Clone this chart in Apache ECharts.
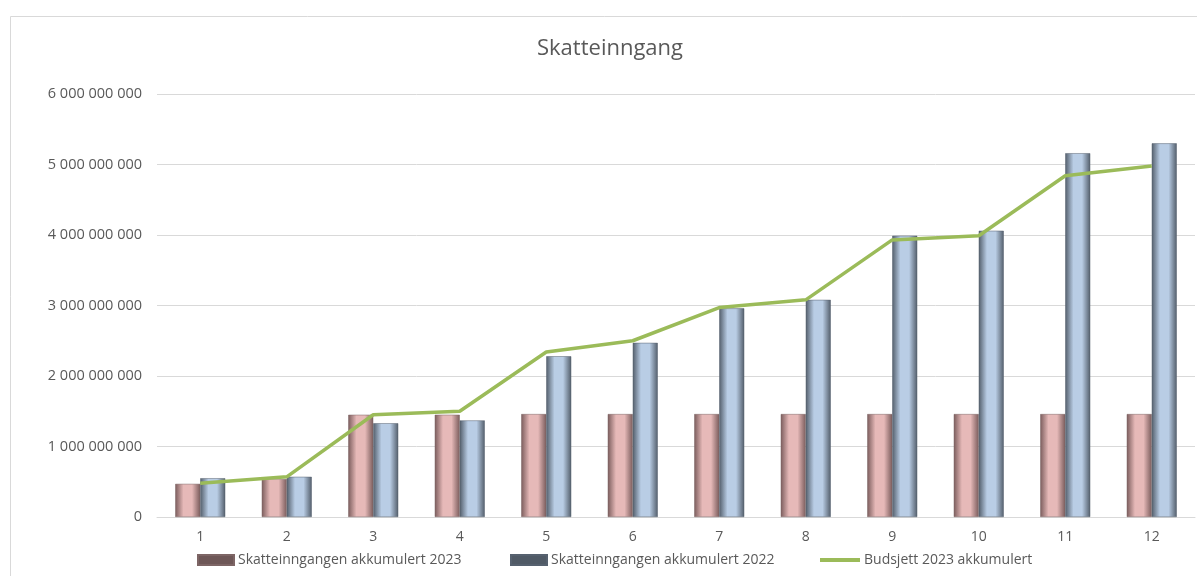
<!DOCTYPE html>
<html>
<head>
<meta charset="utf-8">
<script src="https://cdn.jsdelivr.net/npm/echarts@6/dist/echarts.min.js"></script>
<style>
  html, body { margin: 0; padding: 0; background: #fff; }
  #main { width: 1197px; height: 576px; }
</style>
</head>
<body>
<div id="main"></div>
<script>
// maaneder
var months = ['1', '2', '3', '4', '5', '6', '7', '8', '9', '10', '11', '12'];
// Skatteinngangen akkumulert 2023
var acc2023 = [470e6, 540e6, 1450e6, 1450e6, 1460e6, 1460e6, 1460e6, 1460e6, 1460e6, 1460e6, 1460e6, 1460e6];
// Skatteinngangen akkumulert 2022
var acc2022 = [550e6, 570e6, 1330e6, 1370e6, 2280e6, 2470e6, 2960e6, 3080e6, 3990e6, 4060e6, 5160e6, 5300e6];
// Budsjett 2023 akkumulert
var budget2023 = [480e6, 570e6, 1450e6, 1500e6, 2340e6, 2500e6, 2970e6, 3080e6, 3930e6, 3990e6, 4840e6, 4980e6];

var names = ['Skatteinngangen akkumulert 2023', 'Skatteinngangen akkumulert 2022', 'Budsjett 2023 akkumulert'];

var chart = echarts.init(document.getElementById('main'));

function cyl(edge, mid) {
  return new echarts.graphic.LinearGradient(0, 0, 1, 0, [
    { offset: 0, color: edge },
    { offset: 0.33, color: mid },
    { offset: 0.67, color: mid },
    { offset: 1, color: edge }
  ]);
}

function fmt(v) {
  return String(v).replace(/\B(?=(\d{3})+(?!\d))/g, ' ');
}

// en legend per serie, saa plasseringen blir som i Excel
function leg(name, left, w, h, icon, color) {
  return {
    left: left,
    top: 555 - Math.max(h, 14) / 2,
    itemWidth: w,
    itemHeight: h,
    textStyle: { fontFamily: 'Open Sans', fontSize: 14, color: '#595959', padding: [0, 0, 0, -1] },
    data: [{ name: name, icon: icon, itemStyle: { color: color } }]
  };
}

var option = {
  animation: false,
  title: {
    text: 'Skatteinngang',
    left: 532,
    top: 33,
    textStyle: { fontFamily: 'Open Sans', fontSize: 22, fontWeight: 'normal', color: '#595959' }
  },
  graphic: [{
    type: 'rect',
    shape: { x: 10.5, y: 16.5, width: 1200, height: 600 },
    style: { fill: 'none', stroke: '#d9d9d9', lineWidth: 1 },
    silent: true
  }],
  legend: [
    leg(names[0], 192, 36, 10, 'rect', '#6e5757'),
    leg(names[1], 505, 36, 10, 'rect', '#505a66'),
    leg(names[2], 815, 40, 4, 'rect', '#9bbb59')
  ],
  grid: { left: 157, right: 2, top: 94, bottom: 59, containLabel: false },
  xAxis: {
    type: 'category',
    data: months,
    axisLine: { lineStyle: { color: '#d9d9d9' } },
    axisTick: { show: false },
    axisLabel: { fontFamily: 'Open Sans', fontSize: 14, color: '#595959', margin: 13 }
  },
  yAxis: {
    type: 'value',
    min: 0,
    max: 6e9,
    interval: 1e9,
    axisLine: { show: false },
    axisTick: { show: false },
    splitLine: { lineStyle: { color: '#d9d9d9' } },
    axisLabel: { fontFamily: 'Open Sans', fontSize: 14.5, color: '#595959', margin: 15, formatter: fmt }
  },
  series: [
    {
      name: names[0],
      type: 'bar',
      data: acc2023,
      barWidth: 25,
      barGap: '0%',
      itemStyle: { color: cyl('#7a5c5c', '#e6b9b8'), borderColor: '#7d6565', borderWidth: 0.5 }
    },
    {
      name: names[1],
      type: 'bar',
      data: acc2022,
      barWidth: 25,
      barGap: '0%',
      itemStyle: { color: cyl('#535e6b', '#b9cde5'), borderColor: '#56616f', borderWidth: 0.5 }
    },
    {
      name: names[2],
      type: 'line',
      data: budget2023,
      symbol: 'none',
      z: 5,
      lineStyle: { color: '#9bbb59', width: 3.5 },
      itemStyle: { color: '#9bbb59' }
    }
  ]
};

chart.setOption(option);
</script>
</body>
</html>
